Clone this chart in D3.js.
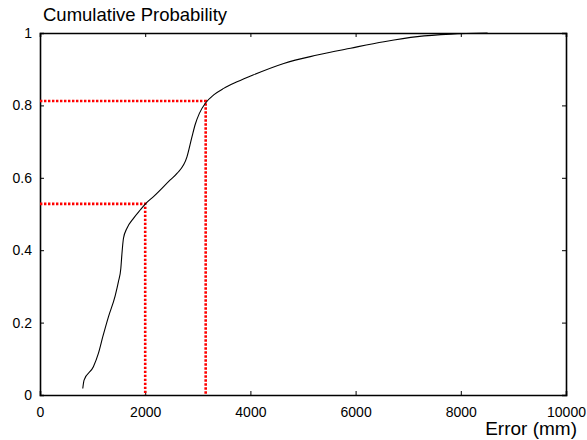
<!DOCTYPE html>
<html>
<head>
<meta charset="utf-8">
<script src="https://cdn.jsdelivr.net/npm/d3@7"></script>
<style>
  html, body { margin: 0; padding: 0; background: #fff; }
  svg { display: block; font-family: "Liberation Sans", Arial, sans-serif; }
</style>
</head>
<body>
<div id="chart"></div>
<script>
// Data
const errorValues = [813, 838, 1015, 1110, 1194, 1301, 1429, 1491, 1537, 1556, 1587, 1651, 1777, 1905, 2032, 2158, 2476, 2604, 2794, 2890, 2952, 3030, 3143, 3302, 3492, 3746, 4050, 4634, 5270, 5905, 6539, 7175, 7810, 8509];
const cumulativeProb = [0.018, 0.041, 0.078, 0.115, 0.161, 0.216, 0.274, 0.313, 0.350, 0.387, 0.433, 0.460, 0.488, 0.511, 0.532, 0.548, 0.594, 0.612, 0.658, 0.714, 0.748, 0.778, 0.806, 0.829, 0.847, 0.865, 0.884, 0.916, 0.939, 0.958, 0.976, 0.990, 0.997, 1.0];
const markerX = [2000, 3150];
const markerY = [0.528, 0.812];
const xTicks = [0, 2000, 4000, 6000, 8000, 10000];
const yTicks = [0, 0.2, 0.4, 0.6, 0.8, 1];
const titleText = "Cumulative Probability";
const xLabelText = "Error (mm)";

const W = 587, H = 440;
const m = { left: 40, right: 566, top: 33, bottom: 395 };

const svg = d3.select("#chart").append("svg").attr("width", W).attr("height", H);
svg.append("rect").attr("width", W).attr("height", H).attr("fill", "#fff");

const x = d3.scaleLinear().domain([0, 10000]).range([m.left, m.right]);
const y = d3.scaleLinear().domain([0, 1]).range([m.bottom, m.top]);

const tickLen = 4;
const fmtY = d => (d === 0 || d === 1) ? String(d) : d.toFixed(1);

// bottom axis
const gB = svg.append("g").attr("transform", `translate(0,${m.bottom})`)
  .call(d3.axisBottom(x).tickValues(xTicks).tickSize(-tickLen).tickPadding(9).tickFormat(d => String(d)));
// top axis
const gT = svg.append("g").attr("transform", `translate(0,${m.top})`)
  .call(d3.axisTop(x).tickValues(xTicks).tickSize(-tickLen).tickFormat(""));
// left axis
const gL = svg.append("g").attr("transform", `translate(${m.left},0)`)
  .call(d3.axisLeft(y).tickValues(yTicks).tickSize(-tickLen).tickPadding(8).tickFormat(fmtY));
// right axis
const gR = svg.append("g").attr("transform", `translate(${m.right},0)`)
  .call(d3.axisRight(y).tickValues(yTicks).tickSize(-tickLen).tickFormat(""));

[gB, gT, gL, gR].forEach(g => {
  g.select(".domain").attr("stroke", "#000").attr("stroke-width", 1.6);
  g.selectAll(".tick line").attr("stroke", "#000").attr("stroke-width", 1);
  g.selectAll("text").attr("font-size", 14).attr("fill", "#000")
    .attr("font-family", "'Liberation Sans', Arial, sans-serif");
});
gB.selectAll("text").attr("dy", "0.9em");

// red dotted guide lines
const guide = d3.line().x(d => x(d[0])).y(d => y(d[1]));
markerX.forEach((mx, i) => {
  svg.append("path")
    .attr("d", guide([[0, markerY[i]], [mx, markerY[i]], [mx, 0]]))
    .attr("fill", "none")
    .attr("stroke", "#ff0000")
    .attr("stroke-width", 2.6)
    .attr("stroke-dasharray", "2.4 1.6");
});

// CDF curve
const pts = errorValues.map((v, i) => [v, cumulativeProb[i]]);
svg.append("path")
  .attr("d", d3.line().x(d => x(d[0])).y(d => y(d[1])).curve(d3.curveMonotoneX)(pts))
  .attr("fill", "none")
  .attr("stroke", "#000")
  .attr("stroke-width", 1.1);

// title & axis label
svg.append("text").attr("x", 43).attr("y", 21).attr("font-size", 18.5).attr("fill", "#000")
  .text(titleText);
svg.append("text").attr("x", 577).attr("y", 435).attr("text-anchor", "end").attr("font-size", 19).attr("fill", "#000")
  .text(xLabelText);
</script>
</body>
</html>
